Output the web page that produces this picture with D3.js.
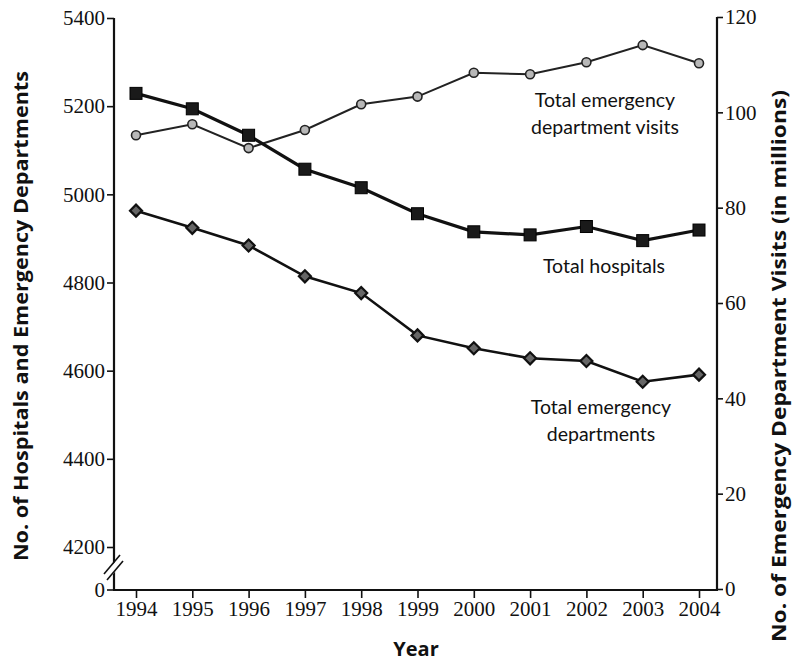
<!DOCTYPE html>
<html>
<head>
<meta charset="utf-8">
<script src="https://cdn.jsdelivr.net/npm/d3@7"></script>
<style>
  body { margin: 0; background: #fff; }
  .tick text { font-family: "Liberation Serif", serif; font-size: 21px; fill: #111; }
  .tick line { stroke: #111; stroke-width: 1.6; }
  .note { font-family: Lato, "Open Sans", sans-serif; font-size: 19.5px; fill: #111; }
  .title { font-family: "Open Sans", Lato, sans-serif; font-size: 20px; font-weight: bold; fill: #111; }
</style>
</head>
<body>
<div id="container"></div>
<script>
// data
var years = [1994, 1995, 1996, 1997, 1998, 1999, 2000, 2001, 2002, 2003, 2004];
var hospitals = [5229, 5194, 5134, 5057, 5015, 4956, 4915, 4908, 4927, 4895, 4919];
var departments = [4963, 4924, 4884, 4814, 4776, 4680, 4651, 4628, 4622, 4575, 4591];
var visits = [95.2, 97.5, 92.5, 96.3, 101.7, 103.3, 108.3, 108.0, 110.5, 114.1, 110.3];

var leftTicks = [4200, 4400, 4600, 4800, 5000, 5200, 5400];
var rightTicks = [0, 20, 40, 60, 80, 100, 120];

var svg = d3.select("#container").append("svg")
	.attr("width", 794)
	.attr("height", 661);

var x = d3.scaleLinear().domain([1994, 2004]).range([136, 699]);
var yL = d3.scaleLinear().domain([4200, 5400]).range([547, 18]);
var yR = d3.scaleLinear().domain([0, 120]).range([589, 17]);

var axisLeftX = 114, axisRightX = 717, baseY = 590;

// left axis
var gl = svg.append("g")
	.attr("transform", "translate(" + axisLeftX + ",0)")
	.call(d3.axisLeft(yL).tickValues(leftTicks).tickFormat(d3.format("d")).tickSize(7).tickPadding(2));
gl.select(".domain").remove();
// the "0" at the foot of the broken axis
var zero = gl.append("g").attr("class", "tick").attr("transform", "translate(0," + baseY + ")");
zero.append("line").attr("x2", -7);
zero.append("text").attr("x", -9).attr("dy", "0.32em").attr("text-anchor", "end").text("0");

// right axis
var gr = svg.append("g")
	.attr("transform", "translate(" + axisRightX + ",0)")
	.call(d3.axisRight(yR).tickValues(rightTicks).tickSize(6).tickPadding(2));
gr.select(".domain").remove();

// bottom axis
var gb = svg.append("g")
	.attr("transform", "translate(0," + baseY + ")")
	.call(d3.axisBottom(x).tickValues(years).tickFormat(d3.format("d")).tickSize(8).tickPadding(3));
gb.select(".domain").remove();

// frame lines
svg.append("line").attr("x1", axisLeftX).attr("x2", axisLeftX).attr("y1", 18).attr("y2", baseY)
	.attr("stroke", "#111").attr("stroke-width", 2.2);
svg.append("line").attr("x1", axisRightX).attr("x2", axisRightX).attr("y1", 17).attr("y2", baseY)
	.attr("stroke", "#111").attr("stroke-width", 2.2);
svg.append("line").attr("x1", axisLeftX - 1).attr("x2", axisRightX + 1).attr("y1", baseY).attr("y2", baseY)
	.attr("stroke", "#111").attr("stroke-width", 2);

// axis break
svg.append("polygon").attr("points", "104,575 120,556 124,561 108,580").attr("fill", "#fff");
[[104, 574, 120, 555], [107, 580, 123, 561]].forEach(function (p) {
	svg.append("line").attr("x1", p[0]).attr("y1", p[1]).attr("x2", p[2]).attr("y2", p[3])
		.attr("stroke", "#111").attr("stroke-width", 1.6);
});

// series lines
var lineL = function (vals) {
	return d3.line().x(function (d, i) { return x(years[i]); }).y(function (d) { return yL(d); })(vals);
};
var lineR = d3.line().x(function (d, i) { return x(years[i]); }).y(function (d) { return yR(d); });

svg.append("path").attr("d", lineR(visits)).attr("fill", "none").attr("stroke", "#222").attr("stroke-width", 2);
svg.append("path").attr("d", lineL(hospitals)).attr("fill", "none").attr("stroke", "#111").attr("stroke-width", 3.2);
svg.append("path").attr("d", lineL(departments)).attr("fill", "none").attr("stroke", "#111").attr("stroke-width", 2.6);

// markers
svg.selectAll("circle.visit").data(visits).enter().append("circle")
	.attr("class", "visit")
	.attr("cx", function (d, i) { return x(years[i]); })
	.attr("cy", function (d) { return yR(d); })
	.attr("r", 4.5)
	.attr("fill", "#b8b8b8").attr("stroke", "#222").attr("stroke-width", 1.6);

svg.selectAll("rect.hosp").data(hospitals).enter().append("rect")
	.attr("class", "hosp")
	.attr("x", function (d, i) { return x(years[i]) - 6; })
	.attr("y", function (d) { return yL(d) - 6; })
	.attr("width", 12).attr("height", 12)
	.attr("fill", "#1a1a1a").attr("stroke", "#000").attr("stroke-width", 1);

svg.selectAll("path.dept").data(departments).enter().append("path")
	.attr("class", "dept")
	.attr("transform", function (d, i) { return "translate(" + x(years[i]) + "," + yL(d) + ")"; })
	.attr("d", "M0,-6L6,0L0,6L-6,0Z")
	.attr("fill", "#666").attr("stroke", "#111").attr("stroke-width", 2.2);

// series notes
function note(lines, cx, cy) {
	var t = svg.append("text").attr("class", "note").attr("text-anchor", "middle");
	lines.forEach(function (s, i) {
		t.append("tspan").attr("x", cx).attr("y", cy + i * 27).text(s);
	});
}
note(["Total emergency", "department visits"], 605, 107);
note(["Total hospitals"], 604, 273);
note(["Total emergency", "departments"], 601, 414);

// axis titles
svg.append("text").attr("class", "title").attr("text-anchor", "middle")
	.attr("transform", "translate(28,316) rotate(-90)")
	.attr("textLength", 490).attr("lengthAdjust", "spacingAndGlyphs")
	.text("No. of Hospitals and Emergency Departments");
svg.append("text").attr("class", "title").attr("text-anchor", "middle")
	.attr("transform", "translate(786,366) rotate(-90)")
	.attr("textLength", 552).attr("lengthAdjust", "spacingAndGlyphs")
	.text("No. of Emergency Department Visits (in millions)");
svg.append("text").attr("class", "title").attr("text-anchor", "middle")
	.attr("x", 416).attr("y", 656)
	.text("Year");
</script>
</body>
</html>
